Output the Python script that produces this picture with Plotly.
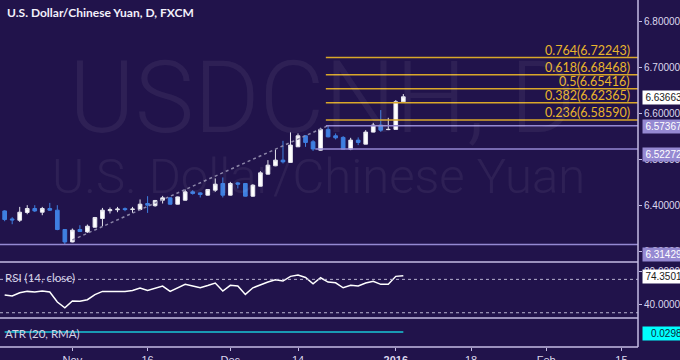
import plotly.graph_objects as go

# ---------------- data ----------------
title_text = "U.S. Dollar/Chinese Yuan, D, FXCM"
watermark_symbol = "USDCNH, D"
watermark_name = "U.S. Dollar/Chinese Yuan"

opens = [6.3875, 6.3700, 6.3672, 6.3841, 6.3928, 6.3847, 6.3928, 6.3891, 6.3469, 6.3198,
         6.3469, 6.3417, 6.3519, 6.3709, 6.3880, 6.3900, 6.3925, 6.3905, 6.3906, 6.4037,
         6.3989, 6.4109, 6.4160, 6.4022, 6.4109, 6.4291, 6.4269, 6.4219, 6.4328, 6.4474,
         6.4219, 6.4487, 6.4474, 6.4197, 6.4415, 6.4678, 6.4860, 6.4984, 6.4934, 6.5275,
         6.5515, 6.5384, 6.5202, 6.5655, 6.5515, 6.5480, 6.5224, 6.5421, 6.5333, 6.5596,
         6.5749, 6.5650, 6.5655, 6.6258]
highs = [6.3891, 6.3738, 6.3963, 6.4000, 6.4000, 6.3963, 6.4050, 6.4000, 6.3480, 6.3491,
         6.3563, 6.3578, 6.3744, 6.3941, 6.3950, 6.3963, 6.3950, 6.3963, 6.4125, 6.4197,
         6.4115, 6.4203, 6.4170, 6.4190, 6.4343, 6.4328, 6.4285, 6.4350, 6.4584, 6.4606,
         6.4509, 6.4509, 6.4480, 6.4459, 6.4743, 6.4984, 6.5218, 6.5406, 6.5589, 6.5567,
         6.5530, 6.5421, 6.5690, 6.57367, 6.5567, 6.5508, 6.5471, 6.5480, 6.5639, 6.5799,
         6.6077, 6.5908, 6.6295, 6.6426]
lows = [6.3650, 6.3585, 6.3635, 6.3803, 6.3853, 6.3782, 6.3875, 6.3454, 6.31429, 6.3190,
        6.3417, 6.3395, 6.3512, 6.3541, 6.3819, 6.3847, 6.3870, 6.3832, 6.3891, 6.3832,
        6.3967, 6.4037, 6.4010, 6.4015, 6.4100, 6.4230, 6.4169, 6.4210, 6.4291, 6.4169,
        6.4210, 6.4365, 6.4190, 6.4181, 6.4410, 6.4670, 6.4852, 6.4912, 6.4930, 6.5270,
        6.5274, 6.5185, 6.5195, 6.5480, 6.5436, 6.5215, 6.5202, 6.5312, 6.5330, 6.5590,
        6.5602, 6.5639, 6.5650, 6.6250]
closes = [6.3687, 6.3680, 6.3847, 6.3928, 6.3875, 6.3928, 6.3891, 6.3469, 6.3198, 6.3454,
          6.3425, 6.3541, 6.3731, 6.3891, 6.3902, 6.3915, 6.3905, 6.3915, 6.4022, 6.4000,
          6.4103, 6.4160, 6.4022, 6.4181, 6.4291, 6.4256, 6.4234, 6.4343, 6.4459, 6.4219,
          6.4474, 6.4459, 6.4197, 6.4437, 6.4706, 6.4874, 6.4984, 6.4947, 6.5312, 6.5515,
          6.5370, 6.52272, 6.5655, 6.5493, 6.5471, 6.5224, 6.5421, 6.5370, 6.5596, 6.5749,
          6.5639, 6.5655, 6.6258, 6.63663]

rsi_values = [51.2, 50.0, 54.0, 55.6, 54.8, 56.0, 54.8, 42.8, 36.0, 44.0,
              43.7, 45.6, 51.8, 55.6, 55.6, 55.6, 55.6, 56.6, 59.6, 56.8,
              59.6, 62.0, 55.6, 60.2, 64.0, 62.0, 59.9, 62.6, 65.6, 56.0,
              62.8, 62.0, 52.0, 59.9, 63.8, 66.8, 69.5, 68.0, 73.6, 75.1,
              72.2, 64.7, 71.9, 66.8, 65.9, 59.9, 62.8, 62.0, 65.6, 67.6,
              64.0, 64.0, 73.6, 74.3501]
atr_values = [0.0271, 0.0270, 0.0270, 0.0268, 0.0266, 0.0264, 0.0262, 0.0268, 0.0272, 0.0273,
              0.0270, 0.0268, 0.0266, 0.0266, 0.0262, 0.0258, 0.0254, 0.0251, 0.0250, 0.0251,
              0.0248, 0.0245, 0.0242, 0.0240, 0.0240, 0.0236, 0.0233, 0.0230, 0.0231, 0.0236,
              0.0236, 0.0232, 0.0234, 0.0235, 0.0239, 0.0242, 0.0248, 0.0259, 0.0277, 0.0275,
              0.0273, 0.0271, 0.0281, 0.0280, 0.0272, 0.0273, 0.0271, 0.0266, 0.0268, 0.0266,
              0.0275, 0.0274, 0.0292, 0.0298]

x_tick_index = [9, 19, 30, 39, 52, 62, 72, 82]
x_tick_text = ["Nov", "16", "Dec", "14", "<b>2016</b>", "18", "Feb", "15"]

fib_ratios = ["0.764", "0.618", "0.5", "0.382", "0.236"]
fib_prices = [6.72243, 6.68468, 6.65416, 6.62365, 6.58590]
level_prices = [6.57367, 6.52272, 6.31429]
trend_index = [9, 43]
trend_prices = [6.3240, 6.57367]

price_ticks = [6.3, 6.4, 6.5, 6.6, 6.7, 6.8]
rsi_ticks = [40, 80]
rsi_bands = [70, 30]
last_close = 6.63663
last_rsi = 74.3501
last_atr = 0.0298

# ---------------- style ----------------
W, H = 680, 360
BG = "#21134b"
LINE = "#c4bde3"
TXT = "#dcd8ee"
GOLD = "#d9a72a"
LAV = "#9589d2"
BLUE = "#3f7fe0"
FONT = "Liberation Sans, Arial, sans-serif"
LFONT = "Lato, sans-serif"

PLOT_R = 638           # right edge of plot area (px)
MAIN_B, RSI_B, ATR_B = 262, 318, 347
X0, X1 = -0.62, 84.2


def px(xp):
    return xp / W


def py(yp):
    return 1 - yp / H


idx = list(range(len(opens)))

fig = go.Figure()

fig.add_trace(go.Candlestick(
    x=idx, open=opens, high=highs, low=lows, close=closes,
    increasing=dict(line=dict(color="#e6e6ee", width=1), fillcolor="#ffffff"),
    decreasing=dict(line=dict(color=BLUE, width=1), fillcolor=BLUE),
    whiskerwidth=0, xaxis="x", yaxis="y", showlegend=False, hoverinfo="skip"))

fig.add_trace(go.Scatter(
    x=trend_index, y=trend_prices, mode="lines",
    line=dict(color="#8c86a8", width=1.5, dash="dot"),
    xaxis="x", yaxis="y", showlegend=False, hoverinfo="skip"))

fig.add_trace(go.Scatter(
    x=idx, y=rsi_values, mode="lines", line=dict(color="#ffffff", width=1.5),
    xaxis="x2", yaxis="y2", showlegend=False, hoverinfo="skip"))

fig.add_trace(go.Scatter(
    x=idx, y=atr_values, mode="lines", line=dict(color="#19c9d6", width=1.5),
    xaxis="x3", yaxis="y3", showlegend=False, hoverinfo="skip"))

shapes = []
annotations = []

# fib lines
fib_start = 42.7
for r, p in zip(fib_ratios, fib_prices):
    shapes.append(dict(type="line", xref="x", yref="y", x0=fib_start, x1=X1, y0=p, y1=p,
                       line=dict(color=GOLD, width=1.5)))
    annotations.append(dict(xref="paper", yref="y", x=px(632), y=p, xanchor="right",
                            yanchor="bottom", yshift=-2, showarrow=False,
                            text=f"{r}({p:.5f})",
                            font=dict(family=LFONT, size=12.5, color="#e9b52c")))

# support / resistance levels
level_starts = [42.7, 41.3, X0]
for s, p in zip(level_starts, level_prices):
    shapes.append(dict(type="line", xref="x", yref="y", x0=s, x1=X1, y0=p, y1=p,
                       line=dict(color=LAV, width=1.5)))

# rsi bands
for b in rsi_bands:
    shapes.append(dict(type="line", xref="x2", yref="y2", x0=X0, x1=X1, y0=b, y1=b,
                       line=dict(color="#b8b2d0", width=1, dash="dot")))

# panel frame lines
for yp in [MAIN_B, RSI_B, ATR_B]:
    shapes.append(dict(type="line", xref="paper", yref="paper", x0=0, x1=px(PLOT_R),
                       y0=py(yp), y1=py(yp), line=dict(color=LINE, width=1.5)))
shapes.append(dict(type="line", xref="paper", yref="paper", x0=px(PLOT_R), x1=px(PLOT_R),
                   y0=py(ATR_B), y1=1, line=dict(color=LINE, width=1.5)))

# watermark
annotations.append(dict(xref="paper", yref="paper", x=px(322), y=py(98), showarrow=False,
                        text=watermark_symbol, xanchor="center", yanchor="middle",
                        font=dict(family="Roboto, sans-serif", size=100, weight=300,
                                  color="rgba(255,255,255,0.06)")))
annotations.append(dict(xref="paper", yref="paper", x=px(318), y=py(176), showarrow=False,
                        text=watermark_name, xanchor="center", yanchor="middle",
                        font=dict(family="Roboto, sans-serif", size=49, weight=300,
                                  color="rgba(255,255,255,0.06)")))

# title
annotations.append(dict(xref="paper", yref="paper", x=px(5), y=py(13), showarrow=False,
                        text=f"<b>{title_text}</b>", xanchor="left", yanchor="middle",
                        font=dict(family=LFONT, size=12, color="#f2f0fa")))

# panel labels
annotations.append(dict(xref="paper", yref="paper", x=px(3), y=py(277), showarrow=False,
                        text="RSI (14, close)", xanchor="left", yanchor="middle",
                        font=dict(family=LFONT, size=11.5, color="#d6d2e6")))
annotations.append(dict(xref="paper", yref="paper", x=px(3), y=py(333), showarrow=False,
                        text="ATR (20, RMA)", xanchor="left", yanchor="middle",
                        font=dict(family=LFONT, size=11.5, color="#d6d2e6")))

# value boxes on the right axis
box_x = px(642)
boxes = [
    ("y", level_prices[0], -1, LAV, "#ffffff", f"{level_prices[0]:.5f}"),
    ("y", level_prices[1], -6, LAV, "#ffffff", f"{level_prices[1]:.5f}"),
    ("y", level_prices[2], -10, LAV, "#ffffff", f"{level_prices[2]:.5f}"),
    ("y", last_close, -1, "#ffffff", "#1a1a1a", f"{last_close:.5f}"),
    ("y2", last_rsi, -1, "#ffffff", "#1a1a1a", f"{last_rsi:.4f}"),
    ("y3", last_atr, -1, "#00ffff", "#0a2a3a", f"{last_atr:.4f}"),
]
for yr, v, ys, bg, fc, t in boxes:
    annotations.append(dict(xref="paper", yref=yr, x=box_x, y=v, yshift=ys, showarrow=False,
                            text=t, xanchor="left", yanchor="middle", bgcolor=bg,
                            borderpad=1, width=38, align="right",
                            font=dict(family=FONT, size=10, color=fc)))

axis_common = dict(showgrid=False, zeroline=False, showline=False, automargin=False)

fig.update_layout(
    width=W, height=H, autosize=False, margin=dict(l=0, r=0, t=0, b=0),
    paper_bgcolor=BG, plot_bgcolor=BG, showlegend=False,
    shapes=shapes, annotations=annotations,
    xaxis=dict(domain=[0, px(PLOT_R)], range=[X0, X1], anchor="y",
               showticklabels=False, rangeslider=dict(visible=False), **axis_common),
    xaxis2=dict(domain=[0, px(PLOT_R)], range=[X0, X1], anchor="y2",
                showticklabels=False, **axis_common),
    xaxis3=dict(domain=[0, px(PLOT_R)], range=[X0, X1], anchor="y3",
                tickmode="array", tickvals=x_tick_index, ticktext=x_tick_text,
                ticks="outside", ticklen=3, tickcolor=LINE,
                tickfont=dict(family=FONT, size=11, color=TXT), **axis_common),
    yaxis=dict(domain=[py(MAIN_B), 1], range=[6.276, 6.848], anchor="x", side="right",
               tickmode="array", tickvals=price_ticks,
               ticktext=[f"{v:.5f}" for v in price_ticks],
               ticks="outside", ticklen=3, tickcolor=LINE,
               tickfont=dict(family=FONT, size=10, color=TXT), **axis_common),
    yaxis2=dict(domain=[py(RSI_B), py(MAIN_B)], range=[23.7, 90.8], anchor="x2", side="right",
                tickmode="array", tickvals=rsi_ticks,
                ticktext=[f"{v:.4f}" for v in rsi_ticks],
                ticks="outside", ticklen=3, tickcolor=LINE,
                tickfont=dict(family=FONT, size=10, color=TXT), **axis_common),
    yaxis3=dict(domain=[py(ATR_B), py(RSI_B)], range=[-1, 1], anchor="x3", side="right",
                showticklabels=False, **axis_common),
)

fig.write_html("out.html",
               config=dict(displayModeBar=False, responsive=False),
               post_script="document.body.style.margin='0';document.body.style.overflow='hidden';")
